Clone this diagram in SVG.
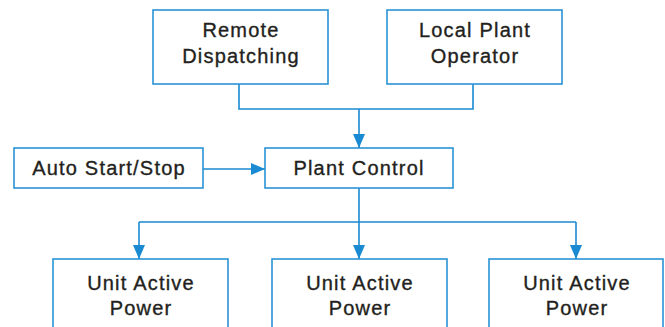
<svg xmlns="http://www.w3.org/2000/svg" width="665" height="327" viewBox="0 0 665 327">
  <style>
    .box { fill: #ffffff; stroke: #2a93d5; stroke-width: 1.6; }
    .lbl { font-family: "Liberation Sans", Arial, Helvetica, sans-serif; font-size: 20px; letter-spacing: 1.2px; fill: #231f20; stroke: #231f20; stroke-width: 0.35px; text-anchor: middle; }
    .wire { fill: none; stroke: #1a8ad2; stroke-width: 1.6; }
  </style>
  <defs>
    <marker id="arrow" viewBox="0 0 14 12" refX="14" refY="6" markerWidth="14" markerHeight="12" markerUnits="userSpaceOnUse" orient="auto">
      <path d="M0,0 L14,6 L0,12 Z" fill="#1a8ad2"/>
    </marker>
  </defs>

  <g id="connectors">
    <polyline class="wire" points="239,84 239,109 473,109 473,84"/>
    <line class="wire" x1="359" y1="109" x2="359" y2="148" marker-end="url(#arrow)"/>
    <line class="wire" x1="203" y1="169" x2="265" y2="169" marker-end="url(#arrow)"/>
    <line class="wire" x1="359" y1="188" x2="359" y2="222"/>
    <line class="wire" x1="139" y1="222" x2="576" y2="222"/>
    <line class="wire" x1="139" y1="222" x2="139" y2="259" marker-end="url(#arrow)"/>
    <line class="wire" x1="359" y1="222" x2="359" y2="259" marker-end="url(#arrow)"/>
    <line class="wire" x1="576" y1="222" x2="576" y2="259" marker-end="url(#arrow)"/>
  </g>

  <g id="remote-dispatching">
    <rect class="box" x="153" y="10" width="175" height="74"/>
    <text class="lbl" x="241" y="37">Remote</text>
    <text class="lbl" x="241" y="63">Dispatching</text>
  </g>

  <g id="local-plant-operator">
    <rect class="box" x="387" y="10" width="175" height="74"/>
    <text class="lbl" x="475" y="37">Local Plant</text>
    <text class="lbl" x="475" y="63">Operator</text>
  </g>

  <g id="auto-start-stop">
    <rect class="box" x="14" y="148" width="189" height="40"/>
    <text class="lbl" x="109" y="175">Auto Start/Stop</text>
  </g>

  <g id="plant-control">
    <rect class="box" x="265" y="148" width="188" height="40"/>
    <text class="lbl" x="359" y="175">Plant Control</text>
  </g>

  <g id="unit-1">
    <rect class="box" x="53" y="259" width="175" height="80"/>
    <text class="lbl" x="141" y="290">Unit Active</text>
    <text class="lbl" x="141" y="315">Power</text>
  </g>

  <g id="unit-2">
    <rect class="box" x="272" y="259" width="175" height="80"/>
    <text class="lbl" x="360" y="290">Unit Active</text>
    <text class="lbl" x="360" y="315">Power</text>
  </g>

  <g id="unit-3">
    <rect class="box" x="489" y="259" width="174" height="80"/>
    <text class="lbl" x="577" y="290">Unit Active</text>
    <text class="lbl" x="577" y="315">Power</text>
  </g>
</svg>
